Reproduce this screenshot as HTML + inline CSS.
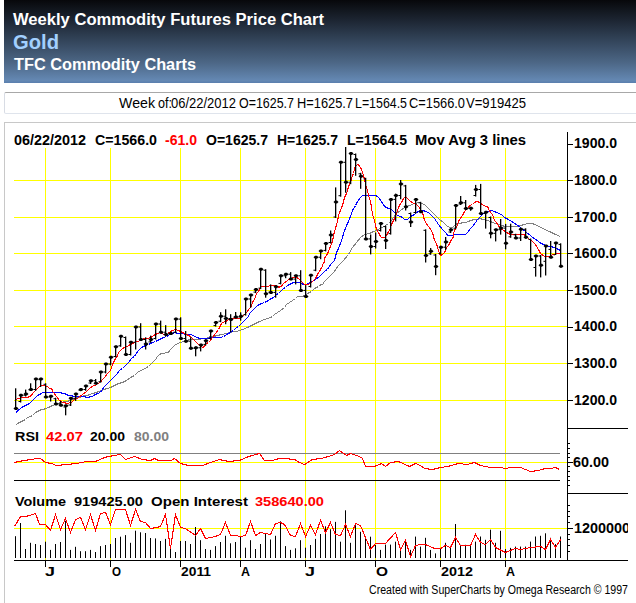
<!DOCTYPE html>
<html><head><meta charset="utf-8"><style>
html,body{margin:0;padding:0;background:#fff;}
body{width:636px;height:603px;overflow:hidden;position:relative;font-family:"Liberation Sans",sans-serif;}
#hdr{position:absolute;left:4px;top:0;width:640px;height:83px;background:linear-gradient(to bottom,#07080b 0%,#1d2633 25%,#34465c 50%,#4c6685 75%,#6488b3 97%,#5a7fae 100%);}
#wk{position:absolute;left:4px;top:92px;width:640px;height:20px;border:1px solid #d8dce4;border-top-color:#a8a8a8;border-bottom-color:#dfe4ec;border-radius:2px;box-sizing:content-box;}
#cb{position:absolute;left:4px;top:122px;width:640px;height:600px;border:1px solid #c8c8c8;}
svg{position:absolute;left:0;top:0;}
</style></head><body>
<div id="hdr"></div>
<div id="wk"></div>
<div id="cb"></div>
<svg width="636" height="603" viewBox="0 0 636 603">
<text x="13" y="24.68" fill="#fff" font-family="Liberation Sans, sans-serif" font-size="16" font-weight="bold" textLength="311" lengthAdjust="spacingAndGlyphs">Weekly Commodity Futures Price Chart</text>
<text x="13" y="48.6" fill="#a2d0ff" font-family="Liberation Sans, sans-serif" font-size="20" font-weight="bold" textLength="46" lengthAdjust="spacingAndGlyphs">Gold</text>
<text x="14" y="69.68" fill="#fff" font-family="Liberation Sans, sans-serif" font-size="16" font-weight="bold" textLength="182" lengthAdjust="spacingAndGlyphs">TFC Commodity Charts</text>
<text x="119" y="108.1" fill="#000" font-family="Liberation Sans, sans-serif" font-size="14.4" font-weight="normal" textLength="36" lengthAdjust="spacingAndGlyphs">Week</text>
<text x="158" y="108.1" fill="#000" font-family="Liberation Sans, sans-serif" font-size="14.4" font-weight="normal" textLength="14" lengthAdjust="spacingAndGlyphs">of:</text>
<text x="171" y="108.1" fill="#000" font-family="Liberation Sans, sans-serif" font-size="14.4" font-weight="normal" textLength="65" lengthAdjust="spacingAndGlyphs">06/22/2012</text>
<text x="239" y="108.1" fill="#000" font-family="Liberation Sans, sans-serif" font-size="14.4" font-weight="normal" textLength="55" lengthAdjust="spacingAndGlyphs">O=1625.7</text>
<text x="297" y="108.1" fill="#000" font-family="Liberation Sans, sans-serif" font-size="14.4" font-weight="normal" textLength="56" lengthAdjust="spacingAndGlyphs">H=1625.7</text>
<text x="355" y="108.1" fill="#000" font-family="Liberation Sans, sans-serif" font-size="14.4" font-weight="normal" textLength="52" lengthAdjust="spacingAndGlyphs">L=1564.5</text>
<text x="409" y="108.1" fill="#000" font-family="Liberation Sans, sans-serif" font-size="14.4" font-weight="normal" textLength="56" lengthAdjust="spacingAndGlyphs">C=1566.0</text>
<text x="466" y="108.1" fill="#000" font-family="Liberation Sans, sans-serif" font-size="14.4" font-weight="normal" textLength="60" lengthAdjust="spacingAndGlyphs">V=919425</text>

<defs><clipPath id="clipR"><rect x="0" y="0" width="628" height="603"/></clipPath></defs>
<g stroke="#ffff00" stroke-width="1" fill="none">
<line x1="45.5" y1="148" x2="45.5" y2="560"/>
<line x1="110.5" y1="148" x2="110.5" y2="560"/>
<line x1="180.5" y1="148" x2="180.5" y2="560"/>
<line x1="240.5" y1="148" x2="240.5" y2="560"/>
<line x1="305.5" y1="148" x2="305.5" y2="560"/>
<line x1="375.5" y1="148" x2="375.5" y2="560"/>
<line x1="440.5" y1="148" x2="440.5" y2="560"/>
<line x1="505.5" y1="148" x2="505.5" y2="560"/>
<line x1="14" y1="180.5" x2="567" y2="180.5"/>
<line x1="14" y1="217.5" x2="567" y2="217.5"/>
<line x1="14" y1="253.5" x2="567" y2="253.5"/>
<line x1="14" y1="290.5" x2="567" y2="290.5"/>
<line x1="14" y1="326.5" x2="567" y2="326.5"/>
<line x1="14" y1="363.5" x2="567" y2="363.5"/>
<line x1="14" y1="400.5" x2="567" y2="400.5"/>
<line x1="14" y1="462.5" x2="567" y2="462.5"/>
<line x1="14" y1="528.5" x2="567" y2="528.5"/>
</g>
<line x1="14" y1="453.5" x2="560" y2="453.5" stroke="#808080" stroke-width="1"/>
<line x1="14" y1="480.5" x2="560" y2="480.5" stroke="#000" stroke-width="1"/>
<g stroke="#000" stroke-width="1" fill="none">
<line x1="567.5" y1="132" x2="567.5" y2="560.5"/>
<line x1="567" y1="428.5" x2="628" y2="428.5"/>
<line x1="567" y1="493.5" x2="628" y2="493.5"/>
<line x1="14" y1="560.5" x2="628" y2="560.5"/>
<line x1="567" y1="144.5" x2="573" y2="144.5"/>
<line x1="567" y1="180.5" x2="573" y2="180.5"/>
<line x1="567" y1="217.5" x2="573" y2="217.5"/>
<line x1="567" y1="253.5" x2="573" y2="253.5"/>
<line x1="567" y1="290.5" x2="573" y2="290.5"/>
<line x1="567" y1="327.5" x2="573" y2="327.5"/>
<line x1="567" y1="363.5" x2="573" y2="363.5"/>
<line x1="567" y1="400.5" x2="573" y2="400.5"/>
<line x1="567" y1="443.5" x2="570" y2="443.5"/>
<line x1="567" y1="448.5" x2="570" y2="448.5"/>
<line x1="567" y1="453.5" x2="570" y2="453.5"/>
<line x1="567" y1="457.5" x2="570" y2="457.5"/>
<line x1="567" y1="466.5" x2="570" y2="466.5"/>
<line x1="567" y1="471.5" x2="570" y2="471.5"/>
<line x1="567" y1="476.5" x2="570" y2="476.5"/>
<line x1="567" y1="480.5" x2="570" y2="480.5"/>
<line x1="567" y1="485.5" x2="570" y2="485.5"/>
<line x1="567" y1="462.5" x2="573" y2="462.5"/>
<line x1="567" y1="505.5" x2="570" y2="505.5"/>
<line x1="567" y1="511.5" x2="570" y2="511.5"/>
<line x1="567" y1="516.5" x2="570" y2="516.5"/>
<line x1="567" y1="522.5" x2="570" y2="522.5"/>
<line x1="567" y1="534.5" x2="570" y2="534.5"/>
<line x1="567" y1="539.5" x2="570" y2="539.5"/>
<line x1="567" y1="545.5" x2="570" y2="545.5"/>
<line x1="567" y1="551.5" x2="570" y2="551.5"/>
<line x1="567" y1="528.5" x2="573" y2="528.5"/>
<line x1="45.5" y1="560" x2="45.5" y2="567"/>
<line x1="110.5" y1="560" x2="110.5" y2="567"/>
<line x1="180.5" y1="560" x2="180.5" y2="567"/>
<line x1="240.5" y1="560" x2="240.5" y2="567"/>
<line x1="305.5" y1="560" x2="305.5" y2="567"/>
<line x1="375.5" y1="560" x2="375.5" y2="567"/>
<line x1="440.5" y1="560" x2="440.5" y2="567"/>
<line x1="505.5" y1="560" x2="505.5" y2="567"/>
</g>
<polyline points="15.5,425.5 16.5,424.5 17.5,423.5 19.5,422.5 21.5,421.5 23.5,420.5 25.5,419.5 27.5,417.5 30.5,416.5 32.5,415.5 34.5,413.5 35.5,412.5 37.5,411.5 39.5,410.5 41.5,409.5 43.5,409.5 45.5,408.5 48.5,407.5 50.5,406.5 52.5,405.5 55.5,404.5 57.5,403.5 58.5,403.5 60.5,402.5 62.5,402.5 64.5,401.5 67.5,401.5 69.5,400.5 72.5,399.5 74.5,398.5 77.5,397.5 79.5,397.5 82.5,396.5 84.5,395.5 87.5,395.5 89.5,394.5 92.5,393.5 93.5,393.5 95.5,392.5 96.5,392.5 98.5,391.5 101.5,390.5 103.5,389.5 107.5,388.5 110.5,387.5 114.5,385.5 118.5,383.5 122.5,382.5 126.5,380.5 130.5,377.5 134.5,375.5 137.5,372.5 140.5,370.5 143.5,369.5 146.5,367.5 148.5,366.5 150.5,364.5 152.5,362.5 155.5,359.5 157.5,356.5 159.5,354.5 161.5,353.5 163.5,353.5 166.5,352.5 168.5,352.5 169.5,350.5 171.5,348.5 172.5,347.5 174.5,345.5 177.5,343.5 180.5,342.5 183.5,341.5 186.5,340.5 190.5,339.5 194.5,339.5 199.5,339.5 202.5,338.5 205.5,338.5 208.5,337.5 210.5,336.5 213.5,336.5 217.5,335.5 221.5,334.5 226.5,333.5 230.5,332.5 233.5,331.5 236.5,331.5 239.5,330.5 242.5,329.5 247.5,327.5 253.5,324.5 259.5,321.5 264.5,319.5 267.5,318.5 270.5,317.5 272.5,316.5 274.5,314.5 277.5,312.5 280.5,310.5 284.5,307.5 286.5,304.5 289.5,302.5 292.5,300.5 295.5,298.5 297.5,296.5 299.5,296.5 300.5,296.5 302.5,296.5 304.5,295.5 307.5,293.5 311.5,291.5 314.5,288.5 318.5,286.5 319.5,285.5 321.5,284.5 322.5,284.5 324.5,281.5 328.5,277.5 333.5,272.5 338.5,265.5 343.5,260.5 348.5,254.5 352.5,247.5 356.5,242.5 360.5,237.5 364.5,234.5 369.5,233.5 373.5,231.5 376.5,230.5 379.5,228.5 382.5,227.5 385.5,225.5 388.5,223.5 391.5,220.5 393.5,217.5 396.5,213.5 400.5,210.5 404.5,207.5 409.5,205.5 414.5,203.5 419.5,202.5 424.5,204.5 428.5,208.5 432.5,212.5 435.5,215.5 439.5,219.5 443.5,222.5 446.5,225.5 449.5,227.5 452.5,227.5 453.5,226.5 455.5,224.5 457.5,223.5 460.5,223.5 462.5,222.5 465.5,222.5 468.5,221.5 470.5,220.5 474.5,219.5 477.5,219.5 480.5,218.5 482.5,219.5 484.5,219.5 487.5,220.5 490.5,221.5 492.5,222.5 495.5,223.5 498.5,224.5 502.5,225.5 504.5,226.5 507.5,226.5 510.5,226.5 513.5,226.5 517.5,226.5 520.5,225.5 524.5,224.5 527.5,223.5 530.5,223.5 532.5,223.5 534.5,224.5 537.5,225.5 542.5,228.5 549.5,231.5 555.5,234.5 560.5,236.5" fill="none" stroke="#808080" stroke-width="1" shape-rendering="crispEdges"/>
<polyline points="15.5,413.5 16.5,412.5 17.5,410.5 19.5,409.5 21.5,407.5 23.5,406.5 25.5,405.5 27.5,404.5 29.5,403.5 31.5,401.5 33.5,399.5 35.5,397.5 37.5,395.5 39.5,394.5 41.5,393.5 42.5,392.5 44.5,392.5 46.5,392.5 48.5,392.5 51.5,392.5 53.5,392.5 55.5,392.5 57.5,392.5 60.5,392.5 62.5,393.5 64.5,393.5 66.5,394.5 68.5,395.5 71.5,395.5 73.5,396.5 75.5,396.5 76.5,396.5 78.5,396.5 80.5,396.5 81.5,396.5 83.5,396.5 84.5,396.5 86.5,397.5 88.5,397.5 90.5,396.5 92.5,396.5 93.5,395.5 95.5,394.5 97.5,393.5 100.5,392.5 102.5,389.5 104.5,386.5 107.5,383.5 110.5,380.5 113.5,377.5 116.5,374.5 119.5,370.5 122.5,368.5 125.5,365.5 127.5,363.5 129.5,361.5 131.5,358.5 134.5,356.5 136.5,353.5 138.5,350.5 140.5,348.5 143.5,346.5 145.5,345.5 148.5,344.5 150.5,343.5 152.5,342.5 155.5,341.5 157.5,340.5 159.5,339.5 161.5,338.5 163.5,337.5 166.5,336.5 168.5,335.5 169.5,334.5 171.5,333.5 172.5,333.5 174.5,332.5 178.5,333.5 182.5,333.5 186.5,334.5 190.5,334.5 193.5,335.5 196.5,337.5 200.5,338.5 202.5,338.5 205.5,338.5 208.5,338.5 210.5,337.5 212.5,337.5 215.5,337.5 216.5,337.5 218.5,337.5 220.5,337.5 223.5,336.5 225.5,335.5 228.5,333.5 230.5,332.5 233.5,330.5 235.5,328.5 238.5,326.5 240.5,324.5 241.5,323.5 242.5,322.5 243.5,321.5 244.5,320.5 246.5,318.5 248.5,316.5 249.5,313.5 251.5,311.5 253.5,309.5 255.5,307.5 257.5,305.5 259.5,304.5 261.5,303.5 264.5,302.5 266.5,301.5 268.5,300.5 271.5,298.5 273.5,297.5 275.5,295.5 278.5,293.5 280.5,291.5 282.5,289.5 285.5,287.5 287.5,285.5 289.5,284.5 291.5,283.5 293.5,282.5 295.5,282.5 296.5,282.5 298.5,282.5 299.5,282.5 300.5,282.5 301.5,283.5 303.5,284.5 304.5,284.5 305.5,284.5 306.5,284.5 308.5,283.5 309.5,282.5 311.5,281.5 312.5,281.5 313.5,280.5 315.5,279.5 316.5,278.5 318.5,277.5 320.5,275.5 322.5,273.5 324.5,271.5 327.5,269.5 329.5,266.5 331.5,263.5 334.5,260.5 335.5,256.5 336.5,252.5 338.5,248.5 340.5,243.5 342.5,237.5 344.5,230.5 347.5,223.5 350.5,216.5 352.5,210.5 355.5,205.5 357.5,201.5 360.5,197.5 362.5,195.5 363.5,195.5 365.5,195.5 367.5,195.5 370.5,195.5 372.5,195.5 375.5,195.5 377.5,196.5 379.5,198.5 381.5,201.5 383.5,204.5 384.5,206.5 386.5,207.5 388.5,208.5 390.5,208.5 391.5,209.5 392.5,210.5 394.5,212.5 395.5,213.5 396.5,214.5 397.5,215.5 398.5,215.5 399.5,216.5 400.5,216.5 402.5,217.5 403.5,218.5 404.5,219.5 406.5,219.5 407.5,219.5 408.5,218.5 410.5,216.5 412.5,215.5 414.5,214.5 416.5,212.5 418.5,211.5 420.5,210.5 423.5,210.5 425.5,211.5 428.5,212.5 430.5,214.5 434.5,218.5 438.5,224.5 442.5,229.5 446.5,233.5 447.5,235.5 449.5,235.5 449.5,235.5 450.5,235.5 452.5,235.5 453.5,234.5 455.5,234.5 456.5,234.5 458.5,234.5 461.5,234.5 463.5,234.5 465.5,234.5 468.5,231.5 470.5,228.5 473.5,225.5 474.5,223.5 476.5,221.5 476.5,220.5 477.5,219.5 478.5,218.5 479.5,217.5 481.5,215.5 483.5,213.5 486.5,212.5 487.5,211.5 489.5,211.5 491.5,210.5 494.5,211.5 496.5,212.5 499.5,213.5 502.5,215.5 504.5,217.5 508.5,219.5 511.5,221.5 514.5,223.5 517.5,225.5 520.5,227.5 522.5,229.5 525.5,231.5 527.5,233.5 530.5,235.5 532.5,237.5 535.5,239.5 537.5,240.5 539.5,242.5 541.5,243.5 543.5,244.5 545.5,245.5 547.5,245.5 548.5,246.5 549.5,246.5 551.5,246.5 553.5,247.5 556.5,248.5 558.5,249.5 560.5,250.5" fill="none" stroke="#0000ff" stroke-width="1.1" shape-rendering="crispEdges"/>
<polyline points="15.5,399.5 16.5,399.5 17.5,398.5 19.5,398.5 20.5,397.5 22.5,397.5 25.5,397.5 27.5,397.5 29.5,396.5 31.5,395.5 32.5,393.5 34.5,391.5 35.5,390.5 37.5,388.5 38.5,387.5 39.5,386.5 40.5,385.5 42.5,385.5 43.5,385.5 44.5,385.5 46.5,386.5 47.5,386.5 48.5,387.5 49.5,388.5 50.5,388.5 52.5,389.5 52.5,391.5 53.5,392.5 54.5,393.5 55.5,395.5 57.5,397.5 58.5,399.5 59.5,400.5 61.5,401.5 62.5,402.5 63.5,402.5 64.5,402.5 66.5,403.5 67.5,403.5 68.5,403.5 69.5,402.5 71.5,402.5 72.5,401.5 73.5,400.5 74.5,399.5 76.5,398.5 77.5,398.5 78.5,397.5 79.5,396.5 81.5,395.5 83.5,393.5 85.5,392.5 87.5,390.5 88.5,389.5 89.5,388.5 90.5,387.5 92.5,386.5 93.5,385.5 95.5,385.5 97.5,383.5 100.5,382.5 102.5,379.5 105.5,376.5 107.5,373.5 110.5,370.5 111.5,367.5 112.5,364.5 113.5,362.5 114.5,360.5 116.5,357.5 117.5,355.5 118.5,352.5 120.5,350.5 122.5,348.5 124.5,347.5 127.5,346.5 130.5,344.5 132.5,343.5 134.5,342.5 137.5,341.5 140.5,340.5 142.5,339.5 144.5,338.5 147.5,338.5 150.5,337.5 152.5,336.5 155.5,334.5 157.5,333.5 160.5,332.5 161.5,333.5 162.5,333.5 163.5,334.5 164.5,334.5 167.5,333.5 169.5,332.5 172.5,330.5 175.5,329.5 178.5,330.5 182.5,332.5 186.5,334.5 190.5,336.5 192.5,338.5 195.5,341.5 198.5,344.5 200.5,346.5 201.5,346.5 202.5,347.5 202.5,347.5 204.5,346.5 205.5,344.5 208.5,342.5 210.5,340.5 212.5,337.5 215.5,333.5 218.5,329.5 220.5,325.5 222.5,322.5 225.5,321.5 227.5,320.5 228.5,319.5 230.5,318.5 233.5,318.5 235.5,318.5 238.5,318.5 240.5,318.5 241.5,317.5 242.5,316.5 243.5,315.5 244.5,314.5 246.5,312.5 247.5,311.5 248.5,309.5 250.5,307.5 251.5,305.5 252.5,302.5 254.5,299.5 255.5,296.5 256.5,293.5 258.5,291.5 259.5,289.5 260.5,287.5 261.5,286.5 262.5,286.5 263.5,286.5 264.5,286.5 267.5,286.5 270.5,285.5 273.5,285.5 275.5,285.5 277.5,286.5 278.5,286.5 278.5,287.5 280.5,286.5 281.5,286.5 282.5,284.5 283.5,283.5 284.5,282.5 286.5,281.5 287.5,280.5 288.5,279.5 290.5,278.5 291.5,278.5 292.5,277.5 294.5,277.5 295.5,276.5 296.5,277.5 298.5,278.5 299.5,279.5 300.5,280.5 301.5,281.5 303.5,283.5 304.5,284.5 305.5,284.5 306.5,284.5 308.5,284.5 309.5,283.5 311.5,282.5 312.5,281.5 313.5,280.5 315.5,278.5 316.5,276.5 317.5,274.5 319.5,271.5 320.5,269.5 322.5,266.5 322.5,264.5 323.5,263.5 324.5,261.5 324.5,258.5 326.5,255.5 328.5,251.5 330.5,246.5 332.5,241.5 333.5,235.5 335.5,228.5 337.5,221.5 338.5,215.5 340.5,210.5 342.5,205.5 343.5,201.5 344.5,197.5 346.5,193.5 347.5,190.5 348.5,186.5 350.5,182.5 351.5,178.5 353.5,173.5 354.5,168.5 356.5,165.5 357.5,164.5 358.5,164.5 359.5,166.5 360.5,167.5 361.5,169.5 362.5,172.5 363.5,175.5 364.5,179.5 365.5,184.5 367.5,190.5 368.5,195.5 370.5,201.5 371.5,207.5 372.5,214.5 374.5,220.5 375.5,225.5 376.5,229.5 378.5,232.5 379.5,234.5 380.5,236.5 381.5,237.5 383.5,237.5 384.5,237.5 385.5,236.5 386.5,235.5 387.5,233.5 389.5,230.5 390.5,227.5 392.5,222.5 395.5,216.5 397.5,210.5 399.5,205.5 401.5,202.5 402.5,200.5 403.5,198.5 404.5,197.5 406.5,197.5 408.5,199.5 409.5,200.5 410.5,201.5 412.5,202.5 413.5,203.5 414.5,203.5 416.5,204.5 417.5,205.5 418.5,206.5 419.5,207.5 420.5,209.5 422.5,212.5 423.5,216.5 424.5,220.5 426.5,223.5 427.5,225.5 428.5,226.5 429.5,227.5 430.5,229.5 432.5,232.5 433.5,236.5 434.5,240.5 436.5,243.5 437.5,247.5 438.5,250.5 439.5,253.5 440.5,255.5 442.5,254.5 444.5,252.5 445.5,250.5 446.5,247.5 448.5,245.5 449.5,243.5 450.5,241.5 452.5,238.5 453.5,236.5 453.5,233.5 454.5,230.5 456.5,227.5 457.5,224.5 458.5,221.5 460.5,218.5 462.5,215.5 463.5,213.5 464.5,211.5 466.5,209.5 468.5,207.5 469.5,205.5 472.5,204.5 474.5,202.5 476.5,201.5 477.5,201.5 479.5,202.5 480.5,203.5 482.5,204.5 483.5,205.5 484.5,205.5 485.5,206.5 486.5,206.5 488.5,207.5 488.5,209.5 489.5,210.5 490.5,212.5 492.5,214.5 493.5,217.5 494.5,220.5 496.5,222.5 498.5,225.5 500.5,228.5 503.5,230.5 506.5,232.5 508.5,233.5 510.5,234.5 511.5,234.5 514.5,234.5 516.5,234.5 518.5,234.5 521.5,234.5 523.5,234.5 525.5,235.5 526.5,236.5 528.5,238.5 529.5,239.5 531.5,240.5 532.5,241.5 534.5,243.5 535.5,244.5 536.5,246.5 538.5,249.5 539.5,251.5 540.5,253.5 541.5,254.5 543.5,255.5 544.5,256.5 545.5,256.5 546.5,256.5 547.5,256.5 549.5,256.5 550.5,255.5 551.5,255.5 552.5,254.5 554.5,254.5 555.5,253.5 556.5,253.5 558.5,253.5 559.5,253.5 560.5,253.5" fill="none" stroke="#ff0000" stroke-width="1.1" shape-rendering="crispEdges"/>
<g stroke="#000" fill="#000">
<rect x="15.0" y="388.3" width="1.3" height="20.7" stroke="none"/>
<path d="M13.5 408.4L15.0 406.9L17.0 406.9L18.5 408.4L17.0 409.9L15.0 409.9Z" stroke="none"/>
<rect x="20.0" y="394.6" width="1.3" height="7.9" stroke="none"/>
<path d="M18.5 395.2L20.0 393.7L22.0 393.7L23.5 395.2L22.0 396.7L20.0 396.7Z" stroke="none"/>
<rect x="18.5" y="401.0" width="1.5" height="1" stroke="none"/>
<rect x="25.0" y="389.6" width="1.3" height="6.9" stroke="none"/>
<path d="M23.5 393.9L25.0 392.4L27.0 392.4L28.5 393.9L27.0 395.4L25.0 395.4Z" stroke="none"/>
<rect x="23.5" y="394.7" width="1.5" height="1" stroke="none"/>
<rect x="30.0" y="383.3" width="1.3" height="7.5" stroke="none"/>
<path d="M28.5 389.5L30.0 388.0L32.0 388.0L33.5 389.5L32.0 391.0L30.0 391.0Z" stroke="none"/>
<rect x="28.5" y="389.3" width="1.5" height="1" stroke="none"/>
<rect x="35.0" y="378.2" width="1.3" height="12.6" stroke="none"/>
<path d="M33.5 379.0L35.0 377.5L37.0 377.5L38.5 379.0L37.0 380.5L35.0 380.5Z" stroke="none"/>
<rect x="33.5" y="389.0" width="1.5" height="1" stroke="none"/>
<rect x="40.0" y="378.6" width="1.3" height="8.4" stroke="none"/>
<path d="M38.5 379.0L40.0 377.5L42.0 377.5L43.5 379.0L42.0 380.5L40.0 380.5Z" stroke="none"/>
<rect x="38.5" y="379.1" width="1.5" height="1" stroke="none"/>
<rect x="45.0" y="383.3" width="1.3" height="14.4" stroke="none"/>
<path d="M43.5 397.0L45.0 395.5L47.0 395.5L48.5 397.0L47.0 398.5L45.0 398.5Z" stroke="none"/>
<rect x="43.5" y="383.8" width="1.5" height="1" stroke="none"/>
<rect x="50.0" y="395.6" width="1.3" height="5.9" stroke="none"/>
<path d="M48.5 396.2L50.0 394.7L52.0 394.7L53.5 396.2L52.0 397.7L50.0 397.7Z" stroke="none"/>
<rect x="48.5" y="396.5" width="1.5" height="1" stroke="none"/>
<rect x="55.0" y="397.7" width="1.3" height="7.0" stroke="none"/>
<path d="M53.5 404.0L55.0 402.5L57.0 402.5L58.5 404.0L57.0 405.5L55.0 405.5Z" stroke="none"/>
<rect x="53.5" y="398.2" width="1.5" height="1" stroke="none"/>
<rect x="60.0" y="400.9" width="1.3" height="5.1" stroke="none"/>
<path d="M58.5 405.2L60.0 403.7L62.0 403.7L63.5 405.2L62.0 406.7L60.0 406.7Z" stroke="none"/>
<rect x="58.5" y="403.5" width="1.5" height="1" stroke="none"/>
<rect x="65.0" y="406.0" width="1.3" height="9.3" stroke="none"/>
<path d="M63.5 405.8L65.0 404.3L67.0 404.3L68.5 405.8L67.0 407.3L65.0 407.3Z" stroke="none"/>
<rect x="63.5" y="406.5" width="1.5" height="1" stroke="none"/>
<rect x="70.0" y="397.7" width="1.3" height="8.3" stroke="none"/>
<path d="M68.5 398.3L70.0 396.8L72.0 396.8L73.5 398.3L72.0 399.8L70.0 399.8Z" stroke="none"/>
<rect x="68.5" y="404.5" width="1.5" height="1" stroke="none"/>
<rect x="75.0" y="393.7" width="1.3" height="7.2" stroke="none"/>
<path d="M73.5 393.9L75.0 392.4L77.0 392.4L78.5 393.9L77.0 395.4L75.0 395.4Z" stroke="none"/>
<rect x="73.5" y="397.8" width="1.5" height="1" stroke="none"/>
<rect x="80.0" y="388.3" width="1.3" height="2.9" stroke="none"/>
<path d="M78.5 389.5L80.0 388.0L82.0 388.0L83.5 389.5L82.0 391.0L80.0 391.0Z" stroke="none"/>
<rect x="78.5" y="389.7" width="1.5" height="1" stroke="none"/>
<rect x="85.0" y="385.8" width="1.3" height="5.0" stroke="none"/>
<path d="M83.5 386.1L85.0 384.6L87.0 384.6L88.5 386.1L87.0 387.6L85.0 387.6Z" stroke="none"/>
<rect x="83.5" y="389.0" width="1.5" height="1" stroke="none"/>
<rect x="90.0" y="380.3" width="1.3" height="3.7" stroke="none"/>
<path d="M88.5 380.7L90.0 379.2L92.0 379.2L93.5 380.7L92.0 382.2L90.0 382.2Z" stroke="none"/>
<rect x="88.5" y="382.5" width="1.5" height="1" stroke="none"/>
<rect x="95.0" y="379.0" width="1.3" height="5.0" stroke="none"/>
<path d="M93.5 383.3L95.0 381.8L97.0 381.8L98.5 383.3L97.0 384.8L95.0 384.8Z" stroke="none"/>
<rect x="93.5" y="380.2" width="1.5" height="1" stroke="none"/>
<rect x="100.0" y="371.8" width="1.3" height="10.9" stroke="none"/>
<path d="M98.5 372.0L100.0 370.5L102.0 370.5L103.5 372.0L102.0 373.5L100.0 373.5Z" stroke="none"/>
<rect x="98.5" y="381.2" width="1.5" height="1" stroke="none"/>
<rect x="105.0" y="363.8" width="1.3" height="9.6" stroke="none"/>
<path d="M103.5 364.1L105.0 362.6L107.0 362.6L108.5 364.1L107.0 365.6L105.0 365.6Z" stroke="none"/>
<rect x="103.5" y="371.5" width="1.5" height="1" stroke="none"/>
<rect x="110.0" y="356.8" width="1.3" height="8.6" stroke="none"/>
<path d="M108.5 357.2L110.0 355.7L112.0 355.7L113.5 357.2L112.0 358.7L110.0 358.7Z" stroke="none"/>
<rect x="108.5" y="363.6" width="1.5" height="1" stroke="none"/>
<rect x="115.0" y="346.6" width="1.3" height="10.9" stroke="none"/>
<path d="M113.5 346.8L115.0 345.3L117.0 345.3L118.5 346.8L117.0 348.3L115.0 348.3Z" stroke="none"/>
<rect x="113.5" y="356.0" width="1.5" height="1" stroke="none"/>
<rect x="120.0" y="335.6" width="1.3" height="11.2" stroke="none"/>
<path d="M118.5 336.2L120.0 334.7L122.0 334.7L123.5 336.2L122.0 337.7L120.0 337.7Z" stroke="none"/>
<rect x="118.5" y="345.3" width="1.5" height="1" stroke="none"/>
<rect x="125.0" y="336.5" width="1.3" height="18.3" stroke="none"/>
<path d="M123.5 354.5L125.0 353.0L127.0 353.0L128.5 354.5L127.0 356.0L125.0 356.0Z" stroke="none"/>
<rect x="123.5" y="337.0" width="1.5" height="1" stroke="none"/>
<rect x="130.0" y="341.3" width="1.3" height="14.2" stroke="none"/>
<path d="M128.5 342.2L130.0 340.7L132.0 340.7L133.5 342.2L132.0 343.7L130.0 343.7Z" stroke="none"/>
<rect x="128.5" y="354.0" width="1.5" height="1" stroke="none"/>
<rect x="135.0" y="326.7" width="1.3" height="22.8" stroke="none"/>
<path d="M133.5 327.0L135.0 325.5L137.0 325.5L138.5 327.0L137.0 328.5L135.0 328.5Z" stroke="none"/>
<rect x="133.5" y="341.7" width="1.5" height="1" stroke="none"/>
<rect x="140.0" y="323.2" width="1.3" height="17.0" stroke="none"/>
<path d="M138.5 339.5L140.0 338.0L142.0 338.0L143.5 339.5L142.0 341.0L140.0 341.0Z" stroke="none"/>
<rect x="138.5" y="326.5" width="1.5" height="1" stroke="none"/>
<rect x="145.0" y="337.3" width="1.3" height="12.2" stroke="none"/>
<path d="M143.5 343.9L145.0 342.4L147.0 342.4L148.5 343.9L147.0 345.4L145.0 345.4Z" stroke="none"/>
<rect x="143.5" y="339.0" width="1.5" height="1" stroke="none"/>
<rect x="150.0" y="335.6" width="1.3" height="7.3" stroke="none"/>
<path d="M148.5 339.5L150.0 338.0L152.0 338.0L153.5 339.5L152.0 341.0L150.0 341.0Z" stroke="none"/>
<rect x="148.5" y="341.4" width="1.5" height="1" stroke="none"/>
<rect x="155.0" y="323.2" width="1.3" height="16.3" stroke="none"/>
<path d="M153.5 324.0L155.0 322.5L157.0 322.5L158.5 324.0L157.0 325.5L155.0 325.5Z" stroke="none"/>
<rect x="153.5" y="338.0" width="1.5" height="1" stroke="none"/>
<rect x="160.0" y="320.6" width="1.3" height="12.7" stroke="none"/>
<path d="M158.5 332.2L160.0 330.7L162.0 330.7L163.5 332.2L162.0 333.7L160.0 333.7Z" stroke="none"/>
<rect x="158.5" y="323.5" width="1.5" height="1" stroke="none"/>
<rect x="165.0" y="325.2" width="1.3" height="11.2" stroke="none"/>
<path d="M163.5 334.5L165.0 333.0L167.0 333.0L168.5 334.5L167.0 336.0L165.0 336.0Z" stroke="none"/>
<rect x="163.5" y="331.7" width="1.5" height="1" stroke="none"/>
<rect x="170.0" y="331.5" width="1.3" height="3.3" stroke="none"/>
<path d="M168.5 333.5L170.0 332.0L172.0 332.0L173.5 333.5L172.0 335.0L170.0 335.0Z" stroke="none"/>
<rect x="168.5" y="333.3" width="1.5" height="1" stroke="none"/>
<rect x="175.0" y="318.2" width="1.3" height="15.0" stroke="none"/>
<path d="M173.5 319.1L175.0 317.6L177.0 317.6L178.5 319.1L177.0 320.6L175.0 320.6Z" stroke="none"/>
<rect x="173.5" y="331.7" width="1.5" height="1" stroke="none"/>
<rect x="180.0" y="317.3" width="1.3" height="22.1" stroke="none"/>
<path d="M178.5 338.5L180.0 337.0L182.0 337.0L183.5 338.5L182.0 340.0L180.0 340.0Z" stroke="none"/>
<rect x="178.5" y="318.6" width="1.5" height="1" stroke="none"/>
<rect x="185.0" y="331.0" width="1.3" height="11.5" stroke="none"/>
<path d="M183.5 341.2L185.0 339.7L187.0 339.7L188.5 341.2L187.0 342.7L185.0 342.7Z" stroke="none"/>
<rect x="183.5" y="338.0" width="1.5" height="1" stroke="none"/>
<rect x="190.0" y="337.2" width="1.3" height="12.2" stroke="none"/>
<path d="M188.5 348.3L190.0 346.8L192.0 346.8L193.5 348.3L192.0 349.8L190.0 349.8Z" stroke="none"/>
<rect x="188.5" y="340.7" width="1.5" height="1" stroke="none"/>
<rect x="195.0" y="346.7" width="1.3" height="9.6" stroke="none"/>
<path d="M193.5 347.8L195.0 346.3L197.0 346.3L198.5 347.8L197.0 349.3L195.0 349.3Z" stroke="none"/>
<rect x="193.5" y="347.8" width="1.5" height="1" stroke="none"/>
<rect x="200.0" y="344.4" width="1.3" height="7.0" stroke="none"/>
<path d="M198.5 345.1L200.0 343.6L202.0 343.6L203.5 345.1L202.0 346.6L200.0 346.6Z" stroke="none"/>
<rect x="198.5" y="347.3" width="1.5" height="1" stroke="none"/>
<rect x="205.0" y="339.4" width="1.3" height="6.0" stroke="none"/>
<path d="M203.5 340.8L205.0 339.3L207.0 339.3L208.5 340.8L207.0 342.3L205.0 342.3Z" stroke="none"/>
<rect x="203.5" y="343.9" width="1.5" height="1" stroke="none"/>
<rect x="210.0" y="330.2" width="1.3" height="9.2" stroke="none"/>
<path d="M208.5 331.1L210.0 329.6L212.0 329.6L213.5 331.1L212.0 332.6L210.0 332.6Z" stroke="none"/>
<rect x="208.5" y="337.9" width="1.5" height="1" stroke="none"/>
<rect x="215.0" y="321.3" width="1.3" height="5.3" stroke="none"/>
<path d="M213.5 322.6L215.0 321.1L217.0 321.1L218.5 322.6L217.0 324.1L215.0 324.1Z" stroke="none"/>
<rect x="213.5" y="325.1" width="1.5" height="1" stroke="none"/>
<rect x="220.0" y="312.2" width="1.3" height="10.0" stroke="none"/>
<path d="M218.5 316.2L220.0 314.7L222.0 314.7L223.5 316.2L222.0 317.7L220.0 317.7Z" stroke="none"/>
<rect x="218.5" y="320.7" width="1.5" height="1" stroke="none"/>
<rect x="225.0" y="309.3" width="1.3" height="14.9" stroke="none"/>
<path d="M223.5 318.6L225.0 317.1L227.0 317.1L228.5 318.6L227.0 320.1L225.0 320.1Z" stroke="none"/>
<rect x="223.5" y="315.7" width="1.5" height="1" stroke="none"/>
<rect x="230.0" y="314.2" width="1.3" height="17.9" stroke="none"/>
<path d="M228.5 319.5L230.0 318.0L232.0 318.0L233.5 319.5L232.0 321.0L230.0 321.0Z" stroke="none"/>
<rect x="228.5" y="318.1" width="1.5" height="1" stroke="none"/>
<rect x="235.0" y="312.0" width="1.3" height="6.2" stroke="none"/>
<path d="M233.5 316.9L235.0 315.4L237.0 315.4L238.5 316.9L237.0 318.4L235.0 318.4Z" stroke="none"/>
<rect x="233.5" y="316.7" width="1.5" height="1" stroke="none"/>
<rect x="240.0" y="312.3" width="1.3" height="8.4" stroke="none"/>
<path d="M238.5 316.3L240.0 314.8L242.0 314.8L243.5 316.3L242.0 317.8L240.0 317.8Z" stroke="none"/>
<rect x="238.5" y="316.4" width="1.5" height="1" stroke="none"/>
<rect x="245.0" y="298.4" width="1.3" height="17.2" stroke="none"/>
<path d="M243.5 299.0L245.0 297.5L247.0 297.5L248.5 299.0L247.0 300.5L245.0 300.5Z" stroke="none"/>
<rect x="243.5" y="314.1" width="1.5" height="1" stroke="none"/>
<rect x="250.0" y="294.4" width="1.3" height="13.3" stroke="none"/>
<path d="M248.5 295.0L250.0 293.5L252.0 293.5L253.5 295.0L252.0 296.5L250.0 296.5Z" stroke="none"/>
<rect x="248.5" y="298.5" width="1.5" height="1" stroke="none"/>
<rect x="255.0" y="288.4" width="1.3" height="4.7" stroke="none"/>
<path d="M253.5 289.4L255.0 287.9L257.0 287.9L258.5 289.4L257.0 290.9L255.0 290.9Z" stroke="none"/>
<rect x="253.5" y="291.6" width="1.5" height="1" stroke="none"/>
<rect x="260.0" y="268.5" width="1.3" height="20.6" stroke="none"/>
<path d="M258.5 269.2L260.0 267.7L262.0 267.7L263.5 269.2L262.0 270.7L260.0 270.7Z" stroke="none"/>
<rect x="258.5" y="287.6" width="1.5" height="1" stroke="none"/>
<rect x="265.0" y="269.2" width="1.3" height="28.5" stroke="none"/>
<path d="M263.5 293.7L265.0 292.2L267.0 292.2L268.5 293.7L267.0 295.2L265.0 295.2Z" stroke="none"/>
<rect x="263.5" y="269.7" width="1.5" height="1" stroke="none"/>
<rect x="270.0" y="284.4" width="1.3" height="8.7" stroke="none"/>
<path d="M268.5 292.4L270.0 290.9L272.0 290.9L273.5 292.4L272.0 293.9L270.0 293.9Z" stroke="none"/>
<rect x="268.5" y="291.6" width="1.5" height="1" stroke="none"/>
<rect x="275.0" y="285.8" width="1.3" height="11.9" stroke="none"/>
<path d="M273.5 286.7L275.0 285.2L277.0 285.2L278.5 286.7L277.0 288.2L275.0 288.2Z" stroke="none"/>
<rect x="273.5" y="291.9" width="1.5" height="1" stroke="none"/>
<rect x="280.0" y="275.2" width="1.3" height="9.2" stroke="none"/>
<path d="M278.5 275.8L280.0 274.3L282.0 274.3L283.5 275.8L282.0 277.3L280.0 277.3Z" stroke="none"/>
<rect x="278.5" y="282.9" width="1.5" height="1" stroke="none"/>
<rect x="285.0" y="273.2" width="1.3" height="5.0" stroke="none"/>
<path d="M283.5 274.2L285.0 272.7L287.0 272.7L288.5 274.2L287.0 275.7L285.0 275.7Z" stroke="none"/>
<rect x="283.5" y="275.3" width="1.5" height="1" stroke="none"/>
<rect x="290.0" y="272.1" width="1.3" height="7.7" stroke="none"/>
<path d="M288.5 279.1L290.0 277.6L292.0 277.6L293.5 279.1L292.0 280.6L290.0 280.6Z" stroke="none"/>
<rect x="288.5" y="273.7" width="1.5" height="1" stroke="none"/>
<rect x="295.0" y="275.2" width="1.3" height="9.2" stroke="none"/>
<path d="M293.5 275.8L295.0 274.3L297.0 274.3L298.5 275.8L297.0 277.3L295.0 277.3Z" stroke="none"/>
<rect x="293.5" y="278.6" width="1.5" height="1" stroke="none"/>
<rect x="300.0" y="270.2" width="1.3" height="20.9" stroke="none"/>
<path d="M298.5 290.4L300.0 288.9L302.0 288.9L303.5 290.4L302.0 291.9L300.0 291.9Z" stroke="none"/>
<rect x="298.5" y="275.3" width="1.5" height="1" stroke="none"/>
<rect x="305.0" y="285.1" width="1.3" height="11.9" stroke="none"/>
<path d="M303.5 296.4L305.0 294.9L307.0 294.9L308.5 296.4L307.0 297.9L305.0 297.9Z" stroke="none"/>
<rect x="303.5" y="289.9" width="1.5" height="1" stroke="none"/>
<rect x="310.0" y="274.2" width="1.3" height="13.3" stroke="none"/>
<path d="M308.5 275.2L310.0 273.7L312.0 273.7L313.5 275.2L312.0 276.7L310.0 276.7Z" stroke="none"/>
<rect x="308.5" y="286.0" width="1.5" height="1" stroke="none"/>
<rect x="315.0" y="256.6" width="1.3" height="14.6" stroke="none"/>
<path d="M313.5 257.2L315.0 255.7L317.0 255.7L318.5 257.2L317.0 258.7L315.0 258.7Z" stroke="none"/>
<rect x="313.5" y="269.7" width="1.5" height="1" stroke="none"/>
<rect x="320.0" y="250.0" width="1.3" height="9.2" stroke="none"/>
<path d="M318.5 251.0L320.0 249.5L322.0 249.5L323.5 251.0L322.0 252.5L320.0 252.5Z" stroke="none"/>
<rect x="318.5" y="256.7" width="1.5" height="1" stroke="none"/>
<rect x="325.0" y="242.5" width="1.3" height="8.9" stroke="none"/>
<path d="M323.5 243.5L325.0 242.0L327.0 242.0L328.5 243.5L327.0 245.0L325.0 245.0Z" stroke="none"/>
<rect x="323.5" y="249.9" width="1.5" height="1" stroke="none"/>
<rect x="330.0" y="230.5" width="1.3" height="13.0" stroke="none"/>
<path d="M328.5 235.1L330.0 233.6L332.0 233.6L333.5 235.1L332.0 236.6L330.0 236.6Z" stroke="none"/>
<rect x="328.5" y="242.0" width="1.5" height="1" stroke="none"/>
<rect x="335.0" y="187.4" width="1.3" height="30.6" stroke="none"/>
<path d="M333.5 202.1L335.0 200.6L337.0 200.6L338.5 202.1L337.0 203.6L335.0 203.6Z" stroke="none"/>
<rect x="333.5" y="216.5" width="1.5" height="1" stroke="none"/>
<rect x="340.0" y="161.5" width="1.3" height="35.2" stroke="none"/>
<path d="M338.5 162.3L340.0 160.8L342.0 160.8L343.5 162.3L342.0 163.8L340.0 163.8Z" stroke="none"/>
<rect x="338.5" y="195.2" width="1.5" height="1" stroke="none"/>
<rect x="345.0" y="147.0" width="1.3" height="45.7" stroke="none"/>
<path d="M343.5 182.2L345.0 180.7L347.0 180.7L348.5 182.2L347.0 183.7L345.0 183.7Z" stroke="none"/>
<rect x="343.5" y="161.8" width="1.5" height="1" stroke="none"/>
<rect x="350.0" y="152.3" width="1.3" height="31.9" stroke="none"/>
<path d="M348.5 153.5L350.0 152.0L352.0 152.0L353.5 153.5L352.0 155.0L350.0 155.0Z" stroke="none"/>
<rect x="348.5" y="181.7" width="1.5" height="1" stroke="none"/>
<rect x="355.0" y="153.5" width="1.3" height="22.3" stroke="none"/>
<path d="M353.5 159.5L355.0 158.0L357.0 158.0L358.5 159.5L357.0 161.0L355.0 161.0Z" stroke="none"/>
<rect x="353.5" y="154.0" width="1.5" height="1" stroke="none"/>
<rect x="360.0" y="172.8" width="1.3" height="16.0" stroke="none"/>
<path d="M358.5 176.2L360.0 174.7L362.0 174.7L363.5 176.2L362.0 177.7L360.0 177.7Z" stroke="none"/>
<rect x="358.5" y="173.3" width="1.5" height="1" stroke="none"/>
<rect x="365.0" y="177.8" width="1.3" height="61.7" stroke="none"/>
<path d="M363.5 238.9L365.0 237.4L367.0 237.4L368.5 238.9L367.0 240.4L365.0 240.4Z" stroke="none"/>
<rect x="363.5" y="178.3" width="1.5" height="1" stroke="none"/>
<rect x="370.0" y="234.5" width="1.3" height="19.9" stroke="none"/>
<path d="M368.5 246.5L370.0 245.0L372.0 245.0L373.5 246.5L372.0 248.0L370.0 248.0Z" stroke="none"/>
<rect x="368.5" y="238.4" width="1.5" height="1" stroke="none"/>
<rect x="375.0" y="232.5" width="1.3" height="16.0" stroke="none"/>
<path d="M373.5 241.5L375.0 240.0L377.0 240.0L378.5 241.5L377.0 243.0L375.0 243.0Z" stroke="none"/>
<rect x="373.5" y="246.0" width="1.5" height="1" stroke="none"/>
<rect x="380.0" y="222.6" width="1.3" height="8.9" stroke="none"/>
<path d="M378.5 223.6L380.0 222.1L382.0 222.1L383.5 223.6L382.0 225.1L380.0 225.1Z" stroke="none"/>
<rect x="378.5" y="230.0" width="1.5" height="1" stroke="none"/>
<rect x="385.0" y="225.6" width="1.3" height="23.4" stroke="none"/>
<path d="M383.5 240.5L385.0 239.0L387.0 239.0L388.5 240.5L387.0 242.0L385.0 242.0Z" stroke="none"/>
<rect x="383.5" y="226.1" width="1.5" height="1" stroke="none"/>
<rect x="390.0" y="198.8" width="1.3" height="35.8" stroke="none"/>
<path d="M388.5 199.4L390.0 197.9L392.0 197.9L393.5 199.4L392.0 200.9L390.0 200.9Z" stroke="none"/>
<rect x="388.5" y="233.1" width="1.5" height="1" stroke="none"/>
<rect x="395.0" y="193.6" width="1.3" height="27.8" stroke="none"/>
<path d="M393.5 195.5L395.0 194.0L397.0 194.0L398.5 195.5L397.0 197.0L395.0 197.0Z" stroke="none"/>
<rect x="393.5" y="198.9" width="1.5" height="1" stroke="none"/>
<rect x="400.0" y="180.0" width="1.3" height="19.2" stroke="none"/>
<path d="M398.5 184.0L400.0 182.5L402.0 182.5L403.5 184.0L402.0 185.5L400.0 185.5Z" stroke="none"/>
<rect x="398.5" y="195.0" width="1.5" height="1" stroke="none"/>
<rect x="405.0" y="184.9" width="1.3" height="25.6" stroke="none"/>
<path d="M403.5 206.8L405.0 205.3L407.0 205.3L408.5 206.8L407.0 208.3L405.0 208.3Z" stroke="none"/>
<rect x="403.5" y="185.4" width="1.5" height="1" stroke="none"/>
<rect x="410.0" y="212.5" width="1.3" height="14.5" stroke="none"/>
<path d="M408.5 222.1L410.0 220.6L412.0 220.6L413.5 222.1L412.0 223.6L410.0 223.6Z" stroke="none"/>
<rect x="408.5" y="213.0" width="1.5" height="1" stroke="none"/>
<rect x="415.0" y="198.0" width="1.3" height="15.5" stroke="none"/>
<path d="M413.5 199.5L415.0 198.0L417.0 198.0L418.5 199.5L417.0 201.0L415.0 201.0Z" stroke="none"/>
<rect x="413.5" y="212.0" width="1.5" height="1" stroke="none"/>
<rect x="420.0" y="201.8" width="1.3" height="11.2" stroke="none"/>
<path d="M418.5 211.8L420.0 210.3L422.0 210.3L423.5 211.8L422.0 213.3L420.0 213.3Z" stroke="none"/>
<rect x="418.5" y="202.3" width="1.5" height="1" stroke="none"/>
<rect x="425.0" y="229.3" width="1.3" height="33.2" stroke="none"/>
<path d="M423.5 255.6L425.0 254.1L427.0 254.1L428.5 255.6L427.0 257.1L425.0 257.1Z" stroke="none"/>
<rect x="423.5" y="229.8" width="1.5" height="1" stroke="none"/>
<rect x="430.0" y="248.0" width="1.3" height="6.8" stroke="none"/>
<path d="M428.5 251.2L430.0 249.7L432.0 249.7L433.5 251.2L432.0 252.7L430.0 252.7Z" stroke="none"/>
<rect x="428.5" y="253.3" width="1.5" height="1" stroke="none"/>
<rect x="435.0" y="254.0" width="1.3" height="21.2" stroke="none"/>
<path d="M433.5 266.5L435.0 265.0L437.0 265.0L438.5 266.5L437.0 268.0L435.0 268.0Z" stroke="none"/>
<rect x="433.5" y="254.5" width="1.5" height="1" stroke="none"/>
<rect x="440.0" y="245.8" width="1.3" height="8.7" stroke="none"/>
<path d="M438.5 247.2L440.0 245.7L442.0 245.7L443.5 247.2L442.0 248.7L440.0 248.7Z" stroke="none"/>
<rect x="438.5" y="253.0" width="1.5" height="1" stroke="none"/>
<rect x="445.0" y="237.0" width="1.3" height="13.0" stroke="none"/>
<path d="M443.5 242.0L445.0 240.5L447.0 240.5L448.5 242.0L447.0 243.5L445.0 243.5Z" stroke="none"/>
<rect x="443.5" y="246.7" width="1.5" height="1" stroke="none"/>
<rect x="450.0" y="228.2" width="1.3" height="4.8" stroke="none"/>
<path d="M448.5 229.7L450.0 228.2L452.0 228.2L453.5 229.7L452.0 231.2L450.0 231.2Z" stroke="none"/>
<rect x="448.5" y="231.5" width="1.5" height="1" stroke="none"/>
<rect x="455.0" y="204.8" width="1.3" height="24.4" stroke="none"/>
<path d="M453.5 205.4L455.0 203.9L457.0 203.9L458.5 205.4L457.0 206.9L455.0 206.9Z" stroke="none"/>
<rect x="453.5" y="227.7" width="1.5" height="1" stroke="none"/>
<rect x="460.0" y="196.0" width="1.3" height="9.0" stroke="none"/>
<path d="M458.5 202.8L460.0 201.3L462.0 201.3L463.5 202.8L462.0 204.3L460.0 204.3Z" stroke="none"/>
<rect x="458.5" y="203.5" width="1.5" height="1" stroke="none"/>
<rect x="465.0" y="200.0" width="1.3" height="9.2" stroke="none"/>
<path d="M463.5 208.5L465.0 207.0L467.0 207.0L468.5 208.5L467.0 210.0L465.0 210.0Z" stroke="none"/>
<rect x="463.5" y="202.3" width="1.5" height="1" stroke="none"/>
<rect x="470.0" y="206.8" width="1.3" height="4.0" stroke="none"/>
<path d="M468.5 208.2L470.0 206.7L472.0 206.7L473.5 208.2L472.0 209.7L470.0 209.7Z" stroke="none"/>
<rect x="468.5" y="208.0" width="1.5" height="1" stroke="none"/>
<rect x="475.0" y="184.9" width="1.3" height="11.6" stroke="none"/>
<path d="M473.5 189.5L475.0 188.0L477.0 188.0L478.5 189.5L477.0 191.0L475.0 191.0Z" stroke="none"/>
<rect x="473.5" y="195.0" width="1.5" height="1" stroke="none"/>
<rect x="480.0" y="183.9" width="1.3" height="30.6" stroke="none"/>
<path d="M478.5 213.4L480.0 211.9L482.0 211.9L483.5 213.4L482.0 214.9L480.0 214.9Z" stroke="none"/>
<rect x="478.5" y="189.0" width="1.5" height="1" stroke="none"/>
<rect x="485.0" y="211.5" width="1.3" height="17.1" stroke="none"/>
<path d="M483.5 212.2L485.0 210.7L487.0 210.7L488.5 212.2L487.0 213.7L485.0 213.7Z" stroke="none"/>
<rect x="483.5" y="212.9" width="1.5" height="1" stroke="none"/>
<rect x="490.0" y="216.5" width="1.3" height="21.8" stroke="none"/>
<path d="M488.5 233.3L490.0 231.8L492.0 231.8L493.5 233.3L492.0 234.8L490.0 234.8Z" stroke="none"/>
<rect x="488.5" y="217.0" width="1.5" height="1" stroke="none"/>
<rect x="495.0" y="229.0" width="1.3" height="12.4" stroke="none"/>
<path d="M493.5 229.7L495.0 228.2L497.0 228.2L498.5 229.7L497.0 231.2L495.0 231.2Z" stroke="none"/>
<rect x="493.5" y="232.8" width="1.5" height="1" stroke="none"/>
<rect x="500.0" y="219.0" width="1.3" height="15.6" stroke="none"/>
<path d="M498.5 228.1L500.0 226.6L502.0 226.6L503.5 228.1L502.0 229.6L500.0 229.6Z" stroke="none"/>
<rect x="498.5" y="229.2" width="1.5" height="1" stroke="none"/>
<rect x="505.0" y="223.9" width="1.3" height="25.4" stroke="none"/>
<path d="M503.5 243.2L505.0 241.7L507.0 241.7L508.5 243.2L507.0 244.7L505.0 244.7Z" stroke="none"/>
<rect x="503.5" y="227.6" width="1.5" height="1" stroke="none"/>
<rect x="510.0" y="223.7" width="1.3" height="14.1" stroke="none"/>
<path d="M508.5 232.1L510.0 230.6L512.0 230.6L513.5 232.1L512.0 233.6L510.0 233.6Z" stroke="none"/>
<rect x="508.5" y="236.3" width="1.5" height="1" stroke="none"/>
<rect x="515.0" y="233.8" width="1.3" height="5.2" stroke="none"/>
<path d="M513.5 238.0L515.0 236.5L517.0 236.5L518.5 238.0L517.0 239.5L515.0 239.5Z" stroke="none"/>
<rect x="513.5" y="234.3" width="1.5" height="1" stroke="none"/>
<rect x="520.0" y="227.9" width="1.3" height="13.1" stroke="none"/>
<path d="M518.5 229.3L520.0 227.8L522.0 227.8L523.5 229.3L522.0 230.8L520.0 230.8Z" stroke="none"/>
<rect x="518.5" y="237.5" width="1.5" height="1" stroke="none"/>
<rect x="525.0" y="228.3" width="1.3" height="10.3" stroke="none"/>
<path d="M523.5 237.3L525.0 235.8L527.0 235.8L528.5 237.3L527.0 238.8L525.0 238.8Z" stroke="none"/>
<rect x="523.5" y="228.8" width="1.5" height="1" stroke="none"/>
<rect x="530.0" y="238.5" width="1.3" height="21.5" stroke="none"/>
<path d="M528.5 259.4L530.0 257.9L532.0 257.9L533.5 259.4L532.0 260.9L530.0 260.9Z" stroke="none"/>
<rect x="528.5" y="239.0" width="1.5" height="1" stroke="none"/>
<rect x="535.0" y="255.2" width="1.3" height="21.4" stroke="none"/>
<path d="M533.5 256.0L535.0 254.5L537.0 254.5L538.5 256.0L537.0 257.5L535.0 257.5Z" stroke="none"/>
<rect x="533.5" y="267.0" width="1.5" height="1" stroke="none"/>
<rect x="540.0" y="255.0" width="1.3" height="22.4" stroke="none"/>
<path d="M538.5 265.3L540.0 263.8L542.0 263.8L543.5 265.3L542.0 266.8L540.0 266.8Z" stroke="none"/>
<rect x="538.5" y="255.5" width="1.5" height="1" stroke="none"/>
<rect x="545.0" y="245.3" width="1.3" height="30.2" stroke="none"/>
<path d="M543.5 246.1L545.0 244.6L547.0 244.6L548.5 246.1L547.0 247.6L545.0 247.6Z" stroke="none"/>
<rect x="543.5" y="260.8" width="1.5" height="1" stroke="none"/>
<rect x="550.0" y="241.0" width="1.3" height="17.0" stroke="none"/>
<path d="M548.5 257.3L550.0 255.8L552.0 255.8L553.5 257.3L552.0 258.8L550.0 258.8Z" stroke="none"/>
<rect x="548.5" y="248.9" width="1.5" height="1" stroke="none"/>
<rect x="555.0" y="242.5" width="1.3" height="12.5" stroke="none"/>
<path d="M553.5 243.1L555.0 241.6L557.0 241.6L558.5 243.1L557.0 244.6L555.0 244.6Z" stroke="none"/>
<rect x="553.5" y="254.3" width="1.5" height="1" stroke="none"/>
<rect x="560.0" y="243.3" width="1.3" height="24.0" stroke="none"/>
<path d="M558.5 266.3L560.0 264.8L562.0 264.8L563.5 266.3L562.0 267.8L560.0 267.8Z" stroke="none"/>
<rect x="558.5" y="243.9" width="1.5" height="1" stroke="none"/>
</g>
<polyline points="14.5,462.5 23.5,460.5 32.5,459.5 35.5,458.5 40.5,458.5 45.5,462.5 51.5,463.5 56.5,465.5 67.5,464.5 76.5,463.5 86.5,461.5 95.5,461.5 104.5,457.5 113.5,455.5 120.5,454.5 125.5,459.5 134.5,456.5 142.5,459.5 150.5,460.5 154.5,458.5 158.5,460.5 171.5,460.5 174.5,458.5 180.5,463.5 188.5,465.5 202.5,465.5 210.5,462.5 219.5,459.5 228.5,461.5 239.5,460.5 248.5,456.5 259.5,453.5 264.5,460.5 272.5,460.5 279.5,458.5 284.5,458.5 294.5,459.5 299.5,462.5 304.5,464.5 312.5,459.5 321.5,458.5 328.5,456.5 334.5,454.5 339.5,450.5 346.5,455.5 350.5,453.5 359.5,456.5 362.5,458.5 365.5,466.5 374.5,466.5 381.5,463.5 385.5,466.5 390.5,462.5 398.5,461.5 409.5,466.5 415.5,463.5 420.5,465.5 424.5,468.5 432.5,469.5 440.5,467.5 447.5,466.5 458.5,463.5 467.5,464.5 474.5,462.5 480.5,465.5 490.5,467.5 500.5,467.5 505.5,468.5 510.5,467.5 520.5,467.5 530.5,471.5 538.5,470.5 545.5,468.5 550.5,468.5 555.5,467.5 559.5,469.5" fill="none" stroke="#ff0000" stroke-width="1.1" shape-rendering="crispEdges"/>
<g stroke="#000" stroke-width="1">
<line x1="15.5" y1="536.2" x2="15.5" y2="558"/>
<line x1="20.5" y1="523.0" x2="20.5" y2="558"/>
<line x1="25.5" y1="549.0" x2="25.5" y2="558"/>
<line x1="30.5" y1="542.8" x2="30.5" y2="558"/>
<line x1="35.5" y1="544.0" x2="35.5" y2="558"/>
<line x1="40.5" y1="545.0" x2="40.5" y2="558"/>
<line x1="45.5" y1="541.7" x2="45.5" y2="558"/>
<line x1="50.5" y1="549.9" x2="50.5" y2="558"/>
<line x1="55.5" y1="544.0" x2="55.5" y2="558"/>
<line x1="60.5" y1="542.0" x2="60.5" y2="558"/>
<line x1="65.5" y1="520.8" x2="65.5" y2="558"/>
<line x1="70.5" y1="549.9" x2="70.5" y2="558"/>
<line x1="75.5" y1="546.8" x2="75.5" y2="558"/>
<line x1="80.5" y1="551.2" x2="80.5" y2="558"/>
<line x1="85.5" y1="551.2" x2="85.5" y2="558"/>
<line x1="90.5" y1="549.9" x2="90.5" y2="558"/>
<line x1="95.5" y1="552.0" x2="95.5" y2="558"/>
<line x1="100.5" y1="546.1" x2="100.5" y2="558"/>
<line x1="105.5" y1="545.0" x2="105.5" y2="558"/>
<line x1="110.5" y1="544.0" x2="110.5" y2="558"/>
<line x1="115.5" y1="538.0" x2="115.5" y2="558"/>
<line x1="120.5" y1="536.7" x2="120.5" y2="558"/>
<line x1="125.5" y1="535.1" x2="125.5" y2="558"/>
<line x1="130.5" y1="542.8" x2="130.5" y2="558"/>
<line x1="135.5" y1="530.7" x2="135.5" y2="558"/>
<line x1="140.5" y1="532.3" x2="140.5" y2="558"/>
<line x1="145.5" y1="533.0" x2="145.5" y2="558"/>
<line x1="150.5" y1="538.0" x2="150.5" y2="558"/>
<line x1="155.5" y1="538.4" x2="155.5" y2="558"/>
<line x1="160.5" y1="541.0" x2="160.5" y2="558"/>
<line x1="165.5" y1="538.9" x2="165.5" y2="558"/>
<line x1="170.5" y1="546.0" x2="170.5" y2="558"/>
<line x1="175.5" y1="552.0" x2="175.5" y2="558"/>
<line x1="180.5" y1="541.0" x2="180.5" y2="558"/>
<line x1="185.5" y1="541.0" x2="185.5" y2="558"/>
<line x1="190.5" y1="544.0" x2="190.5" y2="558"/>
<line x1="195.5" y1="527.0" x2="195.5" y2="558"/>
<line x1="200.5" y1="540.2" x2="200.5" y2="558"/>
<line x1="205.5" y1="549.0" x2="205.5" y2="558"/>
<line x1="210.5" y1="549.9" x2="210.5" y2="558"/>
<line x1="215.5" y1="546.1" x2="215.5" y2="558"/>
<line x1="220.5" y1="542.0" x2="220.5" y2="558"/>
<line x1="225.5" y1="535.8" x2="225.5" y2="558"/>
<line x1="230.5" y1="543.3" x2="230.5" y2="558"/>
<line x1="235.5" y1="542.0" x2="235.5" y2="558"/>
<line x1="240.5" y1="536.7" x2="240.5" y2="558"/>
<line x1="245.5" y1="547.7" x2="245.5" y2="558"/>
<line x1="250.5" y1="540.2" x2="250.5" y2="558"/>
<line x1="255.5" y1="549.0" x2="255.5" y2="558"/>
<line x1="260.5" y1="544.0" x2="260.5" y2="558"/>
<line x1="265.5" y1="533.6" x2="265.5" y2="558"/>
<line x1="270.5" y1="539.5" x2="270.5" y2="558"/>
<line x1="275.5" y1="535.8" x2="275.5" y2="558"/>
<line x1="280.5" y1="521.3" x2="280.5" y2="558"/>
<line x1="285.5" y1="546.1" x2="285.5" y2="558"/>
<line x1="290.5" y1="549.9" x2="290.5" y2="558"/>
<line x1="295.5" y1="548.3" x2="295.5" y2="558"/>
<line x1="300.5" y1="540.2" x2="300.5" y2="558"/>
<line x1="305.5" y1="547.7" x2="305.5" y2="558"/>
<line x1="310.5" y1="545.0" x2="310.5" y2="558"/>
<line x1="315.5" y1="538.9" x2="315.5" y2="558"/>
<line x1="320.5" y1="534.0" x2="320.5" y2="558"/>
<line x1="325.5" y1="526.3" x2="325.5" y2="558"/>
<line x1="330.5" y1="529.2" x2="330.5" y2="558"/>
<line x1="335.5" y1="521.9" x2="335.5" y2="558"/>
<line x1="340.5" y1="541.7" x2="340.5" y2="558"/>
<line x1="345.5" y1="510.3" x2="345.5" y2="558"/>
<line x1="350.5" y1="542.8" x2="350.5" y2="558"/>
<line x1="355.5" y1="525.2" x2="355.5" y2="558"/>
<line x1="360.5" y1="531.8" x2="360.5" y2="558"/>
<line x1="365.5" y1="538.9" x2="365.5" y2="558"/>
<line x1="370.5" y1="536.7" x2="370.5" y2="558"/>
<line x1="375.5" y1="545.0" x2="375.5" y2="558"/>
<line x1="380.5" y1="549.9" x2="380.5" y2="558"/>
<line x1="385.5" y1="544.6" x2="385.5" y2="558"/>
<line x1="390.5" y1="544.6" x2="390.5" y2="558"/>
<line x1="395.5" y1="541.7" x2="395.5" y2="558"/>
<line x1="400.5" y1="547.7" x2="400.5" y2="558"/>
<line x1="405.5" y1="541.0" x2="405.5" y2="558"/>
<line x1="410.5" y1="549.9" x2="410.5" y2="558"/>
<line x1="415.5" y1="536.6" x2="415.5" y2="558"/>
<line x1="420.5" y1="546.6" x2="420.5" y2="558"/>
<line x1="425.5" y1="537.8" x2="425.5" y2="558"/>
<line x1="430.5" y1="549.9" x2="430.5" y2="558"/>
<line x1="435.5" y1="553.4" x2="435.5" y2="558"/>
<line x1="440.5" y1="547.9" x2="440.5" y2="558"/>
<line x1="445.5" y1="542.8" x2="445.5" y2="558"/>
<line x1="450.5" y1="545.8" x2="450.5" y2="558"/>
<line x1="455.5" y1="524.0" x2="455.5" y2="558"/>
<line x1="460.5" y1="544.8" x2="460.5" y2="558"/>
<line x1="465.5" y1="544.8" x2="465.5" y2="558"/>
<line x1="470.5" y1="545.8" x2="470.5" y2="558"/>
<line x1="475.5" y1="541.6" x2="475.5" y2="558"/>
<line x1="480.5" y1="536.5" x2="480.5" y2="558"/>
<line x1="485.5" y1="539.8" x2="485.5" y2="558"/>
<line x1="490.5" y1="529.7" x2="490.5" y2="558"/>
<line x1="495.5" y1="542.8" x2="495.5" y2="558"/>
<line x1="500.5" y1="530.8" x2="500.5" y2="558"/>
<line x1="505.5" y1="549.1" x2="505.5" y2="558"/>
<line x1="510.5" y1="547.9" x2="510.5" y2="558"/>
<line x1="515.5" y1="546.6" x2="515.5" y2="558"/>
<line x1="520.5" y1="546.6" x2="520.5" y2="558"/>
<line x1="525.5" y1="546.6" x2="525.5" y2="558"/>
<line x1="530.5" y1="541.6" x2="530.5" y2="558"/>
<line x1="535.5" y1="536.5" x2="535.5" y2="558"/>
<line x1="540.5" y1="535.8" x2="540.5" y2="558"/>
<line x1="545.5" y1="533.3" x2="545.5" y2="558"/>
<line x1="550.5" y1="537.8" x2="550.5" y2="558"/>
<line x1="555.5" y1="544.1" x2="555.5" y2="558"/>
<line x1="560.5" y1="536.5" x2="560.5" y2="558"/>
</g>
<polyline points="14.5,526.5 20.5,516.5 25.5,516.5 29.5,515.5 35.5,513.5 39.5,524.5 45.5,524.5 50.5,530.5 55.5,514.5 60.5,529.5 65.5,518.5 70.5,532.5 75.5,519.5 80.5,517.5 85.5,529.5 90.5,514.5 95.5,530.5 100.5,513.5 105.5,512.5 110.5,524.5 115.5,509.5 125.5,509.5 130.5,525.5 135.5,509.5 140.5,521.5 145.5,522.5 150.5,528.5 156.5,527.5 160.5,526.5 165.5,514.5 170.5,548.5 175.5,514.5 180.5,527.5 185.5,528.5 195.5,535.5 200.5,528.5 205.5,538.5 215.5,536.5 220.5,534.5 225.5,522.5 230.5,535.5 235.5,535.5 240.5,536.5 245.5,535.5 250.5,521.5 255.5,535.5 260.5,532.5 270.5,534.5 275.5,523.5 280.5,522.5 284.5,524.5 290.5,535.5 295.5,536.5 300.5,523.5 305.5,536.5 310.5,525.5 315.5,534.5 320.5,520.5 325.5,532.5 330.5,522.5 335.5,534.5 340.5,535.5 345.5,524.5 350.5,536.5 355.5,523.5 360.5,525.5 365.5,537.5 370.5,549.5 375.5,543.5 385.5,543.5 395.5,532.5 400.5,549.5 405.5,540.5 410.5,556.5 415.5,545.5 420.5,544.5 425.5,544.5 434.5,548.5 440.5,548.5 445.5,545.5 450.5,547.5 455.5,537.5 460.5,545.5 470.5,545.5 475.5,534.5 480.5,542.5 485.5,544.5 490.5,539.5 495.5,547.5 505.5,552.5 510.5,550.5 515.5,548.5 520.5,549.5 530.5,547.5 540.5,546.5 545.5,549.5 550.5,539.5 555.5,547.5 560.5,539.5" fill="none" stroke="#ff0000" stroke-width="1.1" shape-rendering="crispEdges"/>
<g font-family="Liberation Sans, sans-serif">
<text x="14" y="145.22" fill="#000" font-size="14" font-weight="bold" textLength="72" lengthAdjust="spacingAndGlyphs">06/22/2012</text>
<text x="95" y="145.22" fill="#000" font-size="14" font-weight="bold" textLength="62" lengthAdjust="spacingAndGlyphs">C=1566.0</text>
<text x="165" y="145.22" fill="#ff0000" font-size="14" font-weight="bold" textLength="32" lengthAdjust="spacingAndGlyphs">-61.0</text>
<text x="206" y="145.22" fill="#000" font-size="14" font-weight="bold" textLength="62" lengthAdjust="spacingAndGlyphs">O=1625.7</text>
<text x="277" y="145.22" fill="#000" font-size="14" font-weight="bold" textLength="61" lengthAdjust="spacingAndGlyphs">H=1625.7</text>
<text x="347" y="145.22" fill="#000" font-size="14" font-weight="bold" textLength="60" lengthAdjust="spacingAndGlyphs">L=1564.5</text>
<text x="415" y="145.22" fill="#000" font-size="14" font-weight="bold" textLength="111" lengthAdjust="spacingAndGlyphs">Mov Avg 3 lines</text>
<text x="574" y="148.22" fill="#000" font-size="14" font-weight="bold" textLength="43" lengthAdjust="spacingAndGlyphs">1900.0</text>
<text x="574" y="185.22" fill="#000" font-size="14" font-weight="bold" textLength="43" lengthAdjust="spacingAndGlyphs">1800.0</text>
<text x="574" y="222.22" fill="#000" font-size="14" font-weight="bold" textLength="43" lengthAdjust="spacingAndGlyphs">1700.0</text>
<text x="574" y="258.22" fill="#000" font-size="14" font-weight="bold" textLength="43" lengthAdjust="spacingAndGlyphs">1600.0</text>
<text x="574" y="295.22" fill="#000" font-size="14" font-weight="bold" textLength="43" lengthAdjust="spacingAndGlyphs">1500.0</text>
<text x="574" y="331.22" fill="#000" font-size="14" font-weight="bold" textLength="43" lengthAdjust="spacingAndGlyphs">1400.0</text>
<text x="574" y="368.22" fill="#000" font-size="14" font-weight="bold" textLength="43" lengthAdjust="spacingAndGlyphs">1300.0</text>
<text x="574" y="405.22" fill="#000" font-size="14" font-weight="bold" textLength="43" lengthAdjust="spacingAndGlyphs">1200.0</text>
<text x="573" y="467.22" fill="#000" font-size="14" font-weight="bold" textLength="36" lengthAdjust="spacingAndGlyphs">60.00</text>
<text x="574" y="533.22" fill="#000" font-size="14" font-weight="bold" textLength="56" lengthAdjust="spacingAndGlyphs" clip-path="url(#clipR)">1200000</text>
<text x="15" y="440.855" fill="#000" font-size="13.5" font-weight="bold" textLength="24" lengthAdjust="spacingAndGlyphs">RSI</text>
<text x="46" y="440.855" fill="#ff0000" font-size="13.5" font-weight="bold" textLength="37" lengthAdjust="spacingAndGlyphs">42.07</text>
<text x="90" y="440.855" fill="#000" font-size="13.5" font-weight="bold" textLength="35" lengthAdjust="spacingAndGlyphs">20.00</text>
<text x="134" y="440.855" fill="#808080" font-size="13.5" font-weight="bold" textLength="35" lengthAdjust="spacingAndGlyphs">80.00</text>
<text x="15" y="505.855" fill="#000" font-size="13.5" font-weight="bold" textLength="51" lengthAdjust="spacingAndGlyphs">Volume</text>
<text x="74" y="505.855" fill="#000" font-size="13.5" font-weight="bold" textLength="69" lengthAdjust="spacingAndGlyphs">919425.00</text>
<text x="151" y="505.855" fill="#000" font-size="13.5" font-weight="bold" textLength="97" lengthAdjust="spacingAndGlyphs">Open Interest</text>
<text x="255" y="505.855" fill="#ff0000" font-size="13.5" font-weight="bold" textLength="69" lengthAdjust="spacingAndGlyphs">358640.00</text>
<text x="45" y="575.855" fill="#000" font-size="13.5" font-weight="bold" textLength="10" lengthAdjust="spacingAndGlyphs">J</text>
<text x="112" y="575.855" fill="#000" font-size="13.5" font-weight="bold" textLength="9" lengthAdjust="spacingAndGlyphs">O</text>
<text x="181" y="575.855" fill="#000" font-size="13.5" font-weight="bold" textLength="30" lengthAdjust="spacingAndGlyphs">2011</text>
<text x="241" y="575.855" fill="#000" font-size="13.5" font-weight="bold" textLength="9" lengthAdjust="spacingAndGlyphs">A</text>
<text x="305" y="575.855" fill="#000" font-size="13.5" font-weight="bold" textLength="10" lengthAdjust="spacingAndGlyphs">J</text>
<text x="376" y="575.855" fill="#000" font-size="13.5" font-weight="bold" textLength="12" lengthAdjust="spacingAndGlyphs">O</text>
<text x="441" y="575.855" fill="#000" font-size="13.5" font-weight="bold" textLength="32" lengthAdjust="spacingAndGlyphs">2012</text>
<text x="506" y="575.855" fill="#000" font-size="13.5" font-weight="bold" textLength="9" lengthAdjust="spacingAndGlyphs">A</text>
<text x="369" y="594.125" fill="#000" font-size="12.5" font-weight="normal" textLength="259" lengthAdjust="spacingAndGlyphs">Created with SuperCharts by Omega Research © 1997</text>
</g>
</svg>
</body></html>
